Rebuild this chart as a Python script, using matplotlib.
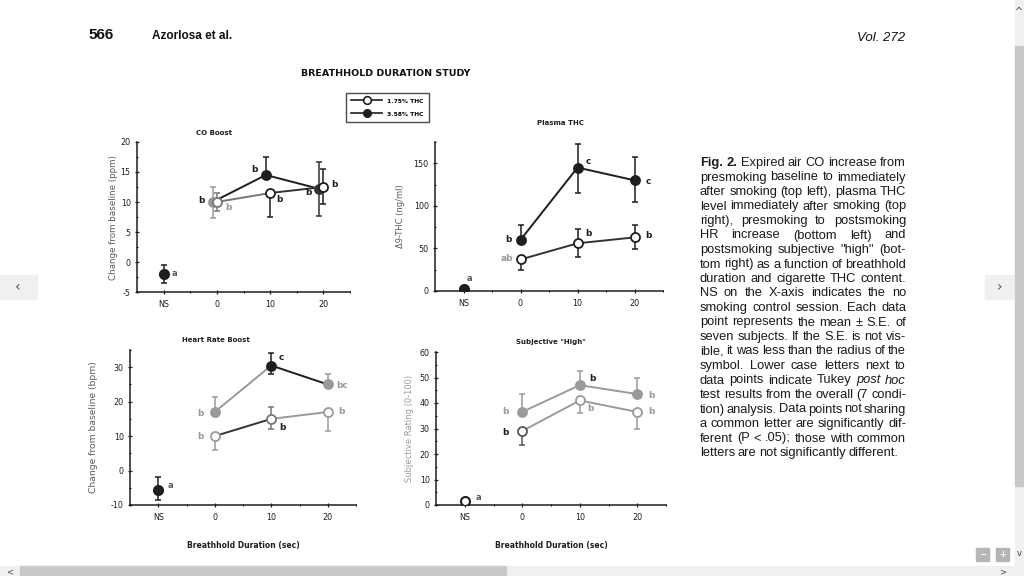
import matplotlib
matplotlib.use("Agg")
import matplotlib.pyplot as plt
from matplotlib.patches import Rectangle
from matplotlib.lines import Line2D

plt.rcParams['font.family'] = ['DejaVu Sans']
plt.rcParams['axes.unicode_minus'] = False

# ---- data ----
dur = [0, 10, 20]
ns_x = -10
x_ticks = [-10, 0, 10, 20]
x_labels = ['NS', '0', '10', '20']

co_ns, co_ns_lo, co_ns_hi = -2, 1.5, 1.5
co_low = [10, 11.5, 12.5]
co_low_lo = [1.5, 4, 2.8]
co_low_hi = [1.5, 0, 3]
co_high = [10, 14.5, 12.2]
co_high_lo = [2.7, 0, 4.5]
co_high_hi = [2.5, 3, 4.5]
co_let_low = ['b', 'b', 'b']
co_let_high = ['b', 'b', 'b']

thc_ns, thc_ns_lo, thc_ns_hi = 2, 0, 0
thc_low = [37, 56, 63]
thc_low_lo = [12, 16, 14]
thc_low_hi = [0, 17, 15]
thc_high = [60, 145, 130]
thc_high_lo = [0, 30, 26]
thc_high_hi = [18, 28, 27]
thc_let_low = ['ab', 'b', 'b']
thc_let_high = ['b', 'c', 'c']

hr_ns, hr_ns_lo, hr_ns_hi = -5.5, 3, 3.5
hr_low = [10, 15, 17]
hr_low_lo = [4, 3, 5.5]
hr_low_hi = [0, 3.5, 0]
hr_high = [17, 30.5, 25]
hr_high_lo = [0, 2.5, 0]
hr_high_hi = [4.5, 3.5, 3]
hr_let_low = ['b', 'b', 'b']
hr_let_high = ['b', 'c', 'bc']

hi_ns, hi_ns_lo, hi_ns_hi = 1.5, 0, 0
hi_low = [29, 41, 36.5]
hi_low_lo = [5.5, 5, 6.5]
hi_low_hi = [0, 0, 0]
hi_high = [36.5, 47, 43.5]
hi_high_lo = [0, 0, 0]
hi_high_hi = [7, 5.5, 6.5]
hi_let_low = ['b', 'b', 'b']
hi_let_high = ['b', 'b', 'b']

legend_labels = ['1.75% THC', '3.58% THC']

caption = [
    "Fig. 2. Expired air CO increase from",
    "presmoking baseline to immediately",
    "after smoking (top left), plasma THC",
    "level immediately after smoking (top",
    "right), presmoking to postsmoking",
    "HR increase (bottom left) and",
    "postsmoking subjective \"high\" (bot-",
    "tom right) as a function of breathhold",
    "duration and cigarette THC content.",
    "NS on the X-axis indicates the no",
    "smoking control session. Each data",
    "point represents the mean \u00b1 S.E. of",
    "seven subjects. If the S.E. is not vis-",
    "ible, it was less than the radius of the",
    "symbol. Lower case letters next to",
    "data points indicate Tukey post hoc",
    "test results from the overall (7 condi-",
    "tion) analysis. Data points not sharing",
    "a common letter are significantly dif-",
    "ferent (P < .05); those with common",
    "letters are not significantly different.",
]

W, H = 1024, 576
fig = plt.figure(figsize=(W / 100, H / 100), dpi=100)
fig.patch.set_facecolor('white')

# full-figure pixel axes for page text and viewer chrome
bg = fig.add_axes([0, 0, 1, 1], zorder=-1)
bg.set_xlim(0, W)
bg.set_ylim(H, 0)
bg.axis('off')

DARK = '#1e1e1e'
GRAY = '#9a9a9a'
MID = '#5a5a5a'


def px_axes(l, t, r, b):
    ax = fig.add_axes([l / W, 1 - b / H, (r - l) / W, (b - t) / H])
    ax.set_facecolor('none')
    for s in ('top', 'right'):
        ax.spines[s].set_visible(False)
    for s in ('left', 'bottom'):
        ax.spines[s].set_linewidth(1.1)
        ax.spines[s].set_color(DARK)
    ax.set_xlim(-15, 25)
    ax.set_xticks(x_ticks)
    ax.set_xticklabels(x_labels)
    ax.tick_params(labelsize=5.8, length=3, width=0.9, direction='inout',
                   colors=DARK, pad=3)
    ax.tick_params(axis='x', pad=4)
    ax.minorticks_on()
    ax.tick_params(which='minor', length=2, width=0.7, direction='inout')
    ax.xaxis.set_minor_locator(matplotlib.ticker.MultipleLocator(5))
    return ax


def series(ax, y, lo, hi, filled, segs, pts, shift=0.0):
    xs = [d + shift for d in dur]
    for i in range(len(dur) - 1):
        ax.plot(xs[i:i + 2], y[i:i + 2], color=segs[i], lw=1.4, zorder=2)
    for i in range(len(dur)):
        ax.errorbar([xs[i]], [y[i]], yerr=[[lo[i]], [hi[i]]], fmt='none',
                    ecolor=pts[i], elinewidth=1.1, capsize=2, capthick=1.1,
                    zorder=3)
        ax.plot([xs[i]], [y[i]], 'o', ms=6.5, mew=1.3, mec=pts[i],
                mfc=pts[i] if filled else 'white', zorder=4)


def letters(ax, y, labs, offs, cols, shift=0.0):
    for d, v, s, o, c in zip(dur, y, labs, offs, cols):
        ax.annotate(s, (d + shift, v), xytext=o, textcoords='offset points',
                    ha='center', va='center', fontsize=6.5, color=c,
                    fontweight='bold')


def ns_point(ax, v, lo, hi, filled, lab, off):
    ax.errorbar([ns_x], [v], yerr=[[lo], [hi]], fmt='none', ecolor=DARK,
                elinewidth=1.1, capsize=2, capthick=1.1, zorder=3)
    ax.plot([ns_x], [v], 'o', ms=6.5, mew=1.5, mec=DARK,
            mfc=DARK if filled else 'white', zorder=4)
    ax.annotate(lab, (ns_x, v), xytext=off, textcoords='offset points',
                ha='center', va='center', fontsize=6, color=MID,
                fontweight='bold')


# ---- CO Boost (top left) ----
ax1 = px_axes(137, 142, 350, 292)
ax1.set_ylim(-5, 20)
ax1.set_yticks([-5, 0, 5, 10, 15, 20])
ax1.yaxis.set_minor_locator(matplotlib.ticker.MultipleLocator(2.5))
series(ax1, co_high, co_high_lo, co_high_hi, True,
       [DARK, DARK], [GRAY, DARK, '#333333'], shift=-0.8)
series(ax1, co_low, co_low_lo, co_low_hi, False,
       ['#777777', '#333333'], ['#777777', DARK, DARK])
letters(ax1, co_high, co_let_high, [(-8, 1), (-8, 4), (-8, -3)],
        [DARK, DARK, DARK], shift=-0.8)
letters(ax1, co_low, co_let_low, [(8, -4), (7, -5), (8, 2)],
        [GRAY, DARK, DARK])
ns_point(ax1, co_ns, co_ns_lo, co_ns_hi, True, 'a', (8, 0))
ax1.set_ylabel('Change from baseline (ppm)', fontsize=6.3, color=MID,
               labelpad=2)
ax1.set_title('CO Boost', fontsize=5, fontweight='bold', color=DARK,
              pad=5, x=0.36)

# ---- Plasma THC (top right) ----
ax2 = px_axes(435, 142, 663, 291)
ax2.set_ylim(0, 175)
ax2.set_yticks([0, 50, 100, 150])
ax2.yaxis.set_minor_locator(matplotlib.ticker.MultipleLocator(25))
series(ax2, thc_high, thc_high_lo, thc_high_hi, True,
       [DARK, DARK], [DARK, DARK, DARK])
series(ax2, thc_low, thc_low_lo, thc_low_hi, False,
       ['#333333', '#333333'], [DARK, DARK, DARK])
letters(ax2, thc_high, thc_let_high, [(-9, 0), (8, 4), (10, -1)],
        [DARK, DARK, DARK])
letters(ax2, thc_low, thc_let_low, [(-10, 1), (8, 7), (10, 1)],
        [GRAY, DARK, DARK])
ns_point(ax2, thc_ns, thc_ns_lo, thc_ns_hi, True, 'a', (4, 8))
ax2.set_ylabel('\u03949-THC (ng/ml)', fontsize=6, color=MID, labelpad=6)
ax2.set_title('Plasma THC', fontsize=5, fontweight='bold', color=DARK,
              pad=12, x=0.55)

# ---- Heart Rate Boost (bottom left) ----
ax3 = px_axes(130, 350, 356, 505)
ax3.set_ylim(-10, 35)
ax3.set_yticks([-10, 0, 10, 20, 30])
ax3.yaxis.set_minor_locator(matplotlib.ticker.MultipleLocator(5))
series(ax3, hr_high, hr_high_lo, hr_high_hi, True,
       [GRAY, DARK], [GRAY, DARK, GRAY])
series(ax3, hr_low, hr_low_lo, hr_low_hi, False,
       ['#333333', GRAY], [GRAY, '#777777', GRAY])
letters(ax3, hr_high, hr_let_high, [(-10, -1), (7, 6), (10, -1)],
        [GRAY, DARK, GRAY])
letters(ax3, hr_low, hr_let_low, [(-10, 0), (8, -6), (10, 0)],
        [GRAY, DARK, GRAY])
ns_point(ax3, hr_ns, hr_ns_lo, hr_ns_hi, True, 'a', (9, 3))
ax3.set_ylabel('Change from baseline (bpm)', fontsize=6.6, color=MID,
               labelpad=9)
ax3.set_title('Heart Rate Boost', fontsize=5, fontweight='bold',
              color=DARK, pad=6, x=0.38)
ax3.set_xlabel('Breathhold Duration (sec)', fontsize=5.5,
               fontweight='bold', color=DARK, labelpad=14)

# ---- Subjective "High" (bottom right) ----
ax4 = px_axes(436, 352, 666, 505)
ax4.set_ylim(0, 60)
ax4.set_yticks([0, 10, 20, 30, 40, 50, 60])
ax4.yaxis.set_minor_locator(matplotlib.ticker.MultipleLocator(5))
series(ax4, hi_high, hi_high_lo, hi_high_hi, True,
       [GRAY, GRAY], [GRAY, GRAY, GRAY])
series(ax4, hi_low, hi_low_lo, hi_low_hi, False,
       [GRAY, GRAY], ['#555555', GRAY, GRAY])
letters(ax4, hi_high, hi_let_high, [(-12, 0), (9, 5), (10, -1)],
        [GRAY, DARK, GRAY])
letters(ax4, hi_low, hi_let_low, [(-12, -1), (8, -6), (10, 0)],
        [DARK, GRAY, GRAY])
ns_point(ax4, hi_ns, hi_ns_lo, hi_ns_hi, False, 'a', (10, 3))
ax4.set_ylabel('Subjective Rating (0-100)', fontsize=6, color=GRAY,
               labelpad=4)
ax4.set_title('Subjective "High"', fontsize=5, fontweight='bold',
              color=DARK, pad=6, x=0.5)
ax4.set_xlabel('Breathhold Duration (sec)', fontsize=5.5,
               fontweight='bold', color=DARK, labelpad=14)

# ---- legend ----
handles = [
    Line2D([], [], color=DARK, lw=1.2, marker='o', ms=5.5, mfc='white',
           mec=DARK, mew=1.2),
    Line2D([], [], color=DARK, lw=1.2, marker='o', ms=5.5, mfc=DARK,
           mec=DARK),
]
leg = fig.legend(handles, legend_labels, loc='upper left',
                 bbox_to_anchor=(346 / W, 1 - 93 / H), fontsize=4.3,
                 frameon=True, fancybox=False, edgecolor=DARK,
                 handlelength=5.2, borderpad=0.9, labelspacing=1.3,
                 handletextpad=0.8, borderaxespad=0)
leg.get_frame().set_linewidth(1.0)
for t in leg.get_texts():
    t.set_fontweight('bold')

# ---- page header ----
bg.text(88, 35, '566', fontsize=11, fontweight='bold', va='center',
        family='Liberation Sans', color='#111111')
bg.text(152, 36, 'Azorlosa et al.', fontsize=8.5, fontweight='bold',
        va='center', family='Liberation Sans', color='#111111')
bg.text(905, 38, 'Vol. 272', fontsize=9.5, style='italic', va='center',
        ha='right', family='Liberation Sans', color='#111111')
bg.text(386, 73, 'BREATHHOLD DURATION STUDY', fontsize=6.8,
        fontweight='bold', va='center', ha='center', color='#111111')

# ---- caption, justified ----
renderer = fig.canvas.get_renderer()
cap_l, cap_r = 700, 906
for i, line in enumerate(caption):
    words = line.split(' ')
    arts = []
    for j, w in enumerate(words):
        kw = dict(fontsize=9.3, family='Liberation Sans', color='#1a1a1a',
                  va='baseline', ha='left')
        if i == 0 and j < 2:
            kw['fontweight'] = 'bold'
        if i == 15 and w in ('post', 'hoc'):
            kw['style'] = 'italic'
        arts.append(bg.text(0, 166 + i * 14.5, w, **kw))
    widths = [a.get_window_extent(renderer).width for a in arts]
    space = 2.6
    if i < len(caption) - 1 and len(arts) > 1:
        space = (cap_r - cap_l - sum(widths)) / (len(arts) - 1)
    x = cap_l
    for a, w in zip(arts, widths):
        a.set_x(x)
        x += w + space

# ---- viewer chrome ----
CHROME = '#f0f0f0'
THUMB = '#c9c9c9'
bg.add_patch(Rectangle((0, 275), 37, 24, color=CHROME, zorder=0))
bg.text(18, 287, '\u2039', fontsize=10, ha='center', va='center',
        color='#555555')
bg.add_patch(Rectangle((985, 275), 30, 24, color=CHROME, zorder=0))
bg.text(1000, 287, '\u203a', fontsize=10, ha='center', va='center',
        color='#555555')
bg.add_patch(Rectangle((1015, 0), 9, 566, color=CHROME, zorder=0))
bg.add_patch(Rectangle((1015, 46), 9, 440, color=THUMB, zorder=0))
bg.text(1019, 12, '^', fontsize=7, ha='center', va='center',
        color='#444444')
bg.text(1019, 553, 'v', fontsize=6, ha='center', va='center',
        color='#444444')
bg.add_patch(Rectangle((0, 566), 1024, 10, color=CHROME, zorder=0))
bg.add_patch(Rectangle((20, 566), 486, 10, color=THUMB, zorder=0))
bg.text(10, 572, '<', fontsize=6, ha='center', va='center', color='#444444')
bg.text(1003, 572, '>', fontsize=6, ha='center', va='center',
        color='#444444')
bg.add_patch(Rectangle((976, 548), 13, 13, color='#b5b5b5', zorder=0))
bg.text(982.5, 554.5, '\u2212', fontsize=6, ha='center', va='center',
        color='white', fontweight='bold')
bg.add_patch(Rectangle((996, 548), 13, 13, color='#b5b5b5', zorder=0))
bg.text(1002.5, 554.5, '+', fontsize=6, ha='center', va='center',
        color='white', fontweight='bold')

fig.savefig('out.png', dpi=100, facecolor='white')
